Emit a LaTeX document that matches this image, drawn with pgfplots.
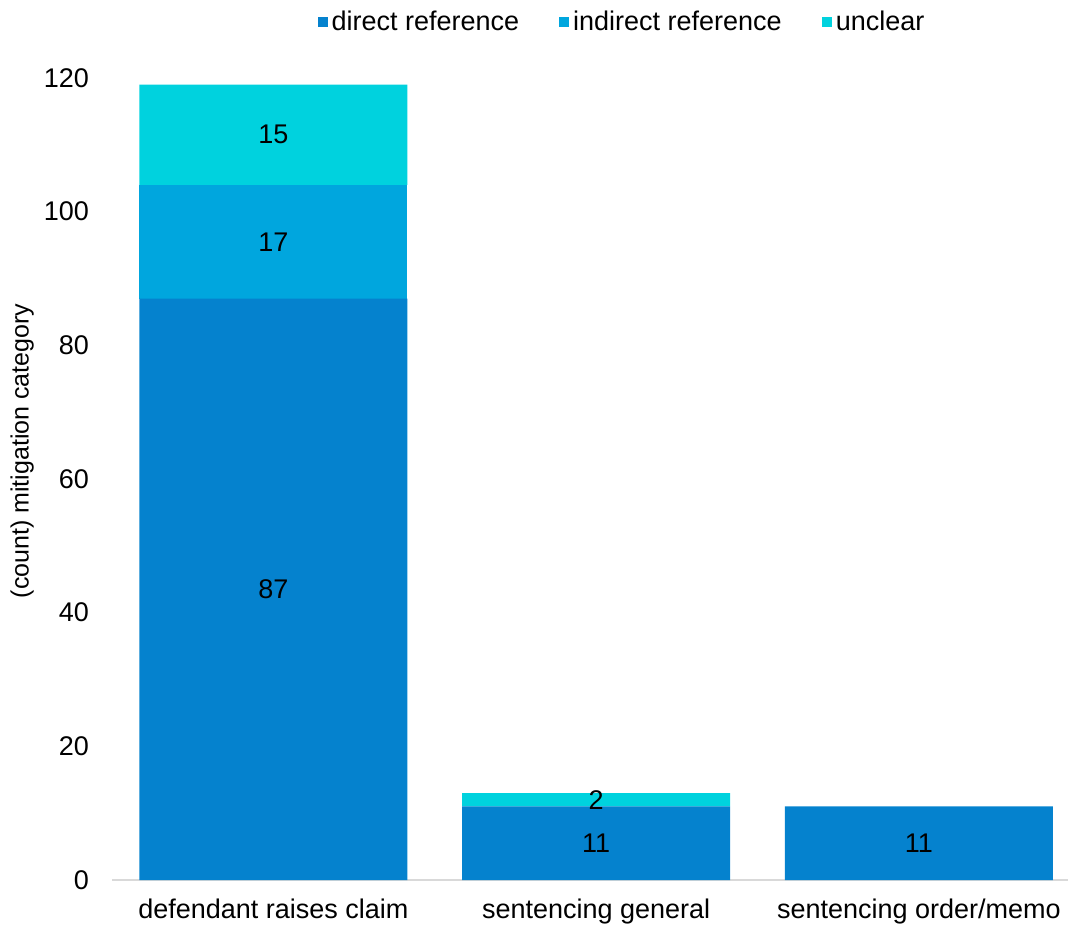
\documentclass[border=0pt]{standalone}
\usepackage{fontspec}
\setmainfont{Liberation Sans}
\usepackage{pgfplots}
\pgfplotsset{compat=1.18}
\definecolor{cdirect}{RGB}{5,130,206}
\definecolor{cindirect}{RGB}{0,166,222}
\definecolor{cunclear}{RGB}{0,210,222}
\definecolor{caxis}{RGB}{217,217,217}
\begin{document}
\begin{tikzpicture}
\begin{axis}[
  name=main,
  scale only axis,
  width=478pt, height=401pt,
  ybar stacked,
  bar width=134pt,
  xmin=-0.5, xmax=2.462,
  ymin=0, ymax=120,
  ytick={0,20,...,120},
  xtick=data,
  xticklabels={defendant raises claim, sentencing general, sentencing order/memo},
  font=\fontsize{13.5pt}{16pt}\selectfont,
  /pgf/number format/assume math mode=true,
  tick style={draw=none},
  axis x line*=bottom,
  axis y line*=left,
  y axis line style={draw=none},
  x axis line style={draw=caxis, line width=1pt},
  yticklabel style={anchor=east, xshift=-8pt},
  xticklabel style={yshift=-6pt},
  ylabel={(count) mitigation category},
  ylabel style={at={(axis description cs:-0.094,0.535)}, anchor=center,
    font=\fontsize{12.5pt}{15pt}\selectfont},
  legend columns=-1,
  legend style={draw=none, fill=none, at={(axis description cs:0.5345,1.0698)}, anchor=center,
    font=\fontsize{13.5pt}{16pt}\selectfont,
    /tikz/every even column/.append style={column sep=18pt}},
  legend image code/.code={\fill[#1] (0pt,-2.5pt) rectangle (5pt,2.5pt);},
  nodes near coords,
  nodes near coords style={font=\fontsize{13.5pt}{16pt}\selectfont, black},
  every node near coord/.append style={anchor=center},
]
\addplot[fill=cdirect, draw=none] coordinates {(0,87) (1,11) (2,11)};
\addplot[fill=cindirect, draw=none] coordinates {(0,17) (1,0) (2,0)};
\addplot[fill=cunclear, draw=none] coordinates {(0,15) (1,2) (2,0)};
\legend{direct reference, indirect reference, unclear}
\end{axis}
\pgfresetboundingbox
\path[use as bounding box] ([xshift=-56pt,yshift=-23pt]main.south west) rectangle ([xshift=1pt,yshift=39pt]main.north east);
\end{tikzpicture}
\end{document}
